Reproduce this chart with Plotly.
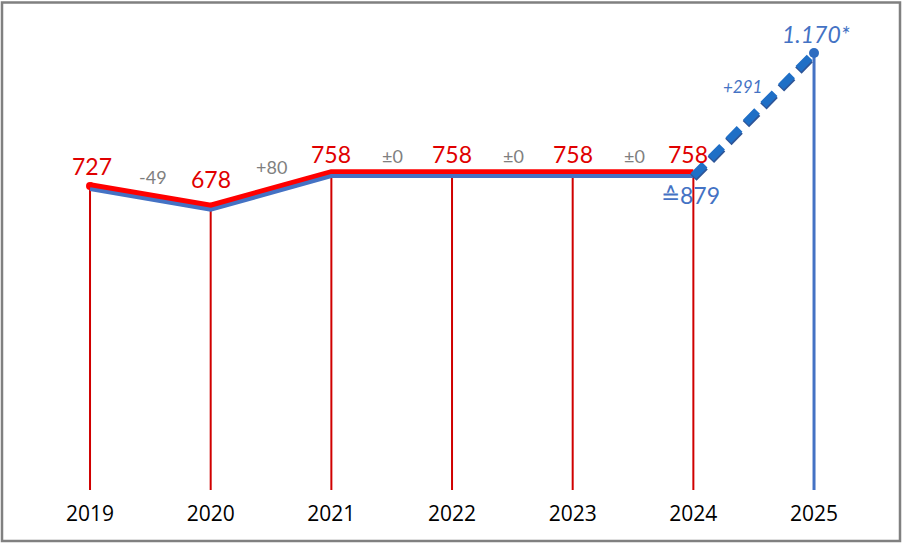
import plotly.graph_objects as go

# ---- data ----
years = [2019, 2020, 2021, 2022, 2023, 2024, 2025]
red_values = [727, 678, 758, 758, 758, 758]            # 2019-2024
blue_values = [848, 799, 879, 879, 879, 879, 1170]    # equivalent scale (≙)
blue_equiv_label = 879
forecast_value = 1170

# ---- styling / layout constants ----
W, H = 902, 543
PLOT_BOTTOM = 490
X_MIN, X_MAX = 2018.254, 2025.729
Y_RANGE = [0, 1171.7]
Y2_RANGE = [136.1, 1295.4]
RED = "#FF0000"
RED_TXT = "#E00000"
RED_DROP = "#D00000"
BLUE = "#4472C4"
BLUE_DASH = "#1F6FC6"
BLUE_SHADOW = "#2F5597"
GRAY = "#7F7F7F"
FONT = "Lato"

fig = go.Figure()

# red drop lines
dx, dy = [], []
for yr, v in zip(years[:6], red_values):
    dx += [yr, yr, None]
    dy += [0, v, None]
fig.add_trace(go.Scatter(x=dx, y=dy, mode="lines", line=dict(color=RED_DROP, width=2),
                         cliponaxis=False, hoverinfo="skip"))

# blue drop line for forecast year
fig.add_trace(go.Scatter(x=[years[-1], years[-1]], y=[Y2_RANGE[0], forecast_value], yaxis="y2",
                         mode="lines", line=dict(color=BLUE, width=3), cliponaxis=False, hoverinfo="skip"))

# blue historic (equivalent) line under red
fig.add_trace(go.Scatter(x=years[:6], y=blue_values[:6], yaxis="y2", mode="lines",
                         line=dict(color=BLUE, width=4), cliponaxis=False, hoverinfo="skip"))

# red main line
fig.add_trace(go.Scatter(x=years[:6], y=red_values, mode="lines",
                         line=dict(color=RED, width=7.5), cliponaxis=False, hoverinfo="skip"))
fig.add_trace(go.Scatter(x=[years[0]], y=[red_values[0]], mode="markers",
                         marker=dict(color=RED, size=8), cliponaxis=False, hoverinfo="skip"))

# dashed forecast segment (shadow + main)
fig.add_trace(go.Scatter(x=years[5:], y=[v - 4 for v in blue_values[5:]], yaxis="y2", mode="lines",
                         line=dict(color=BLUE_SHADOW, width=9, dash="16px,9px"),
                         cliponaxis=False, hoverinfo="skip"))
fig.add_trace(go.Scatter(x=years[5:], y=blue_values[5:], yaxis="y2", mode="lines",
                         line=dict(color=BLUE_DASH, width=8, dash="16px,9px"),
                         cliponaxis=False, hoverinfo="skip"))
fig.add_trace(go.Scatter(x=[years[-1]], y=[forecast_value], yaxis="y2", mode="markers",
                         marker=dict(color="#2E6CC0", size=10), cliponaxis=False, hoverinfo="skip"))

annotations = []
# red value labels
red_shift = {2019: (2, 20), 2020: (0, 27), 2024: (-5, 19)}
for yr, v in zip(years[:6], red_values):
    xs, ys = red_shift.get(yr, (0, 19))
    annotations.append(dict(x=yr, y=v, xref="x", yref="y", text=str(v), showarrow=False,
                            xshift=xs, yshift=ys, font=dict(family=FONT, size=23, color=RED_TXT)))

# gray difference labels
diff_shift = {0: (3, 19), 1: (0, 23)}
for i in range(5):
    d = red_values[i + 1] - red_values[i]
    txt = "±0" if d == 0 else f"{d:+d}"
    xs, ys = diff_shift.get(i, (1, 17))
    annotations.append(dict(x=(years[i] + years[i + 1]) / 2, y=(red_values[i] + red_values[i + 1]) / 2,
                            xref="x", yref="y", text=txt, showarrow=False, xshift=xs, yshift=ys,
                            font=dict(family=FONT, size=18, color=GRAY)))

# blue labels
annotations.append(dict(x=years[5], y=blue_equiv_label, xref="x", yref="y2", text=f"≙{blue_equiv_label}",
                        showarrow=False, xshift=-3, yshift=-19, font=dict(family=FONT, size=23, color=BLUE)))
inc = forecast_value - blue_equiv_label
annotations.append(dict(x=(years[5] + years[6]) / 2, y=(blue_equiv_label + forecast_value) / 2,
                        xref="x", yref="y2", text=f"<i>{inc:+d}</i>", showarrow=False,
                        xshift=-11, yshift=28, font=dict(family=FONT, size=17, color=BLUE)))
annotations.append(dict(x=years[6], y=forecast_value, xref="x", yref="y2",
                        text="<i>" + f"{forecast_value:,}".replace(",", ".") + "*</i>",
                        showarrow=False, xshift=2, yshift=19, font=dict(family=FONT, size=23, color=BLUE)))

plot_h = PLOT_BOTTOM
fig.update_layout(
    width=W, height=H,
    margin=dict(l=0, r=0, t=0, b=H - PLOT_BOTTOM, pad=0),
    paper_bgcolor="white", plot_bgcolor="white",
    showlegend=False,
    xaxis=dict(range=[X_MIN, X_MAX], tickvals=years, ticktext=[str(y) for y in years],
               showgrid=False, zeroline=False, showline=False, ticks="",
               tickfont=dict(family="Open Sans", size=21, color="black"), ticklabelstandoff=9),
    yaxis=dict(range=Y_RANGE, visible=False, showgrid=False, zeroline=False),
    yaxis2=dict(range=Y2_RANGE, overlaying="y", visible=False, showgrid=False, zeroline=False),
    annotations=annotations,
    shapes=[dict(type="rect", xref="paper", yref="paper",
                 x0=2 / W, x1=(W - 2) / W,
                 y0=(plot_h - (H - 2)) / plot_h, y1=(plot_h - 2.5) / plot_h,
                 line=dict(color="#808080", width=2.5), fillcolor="rgba(0,0,0,0)")],
)

fig.write_html("out.html")
